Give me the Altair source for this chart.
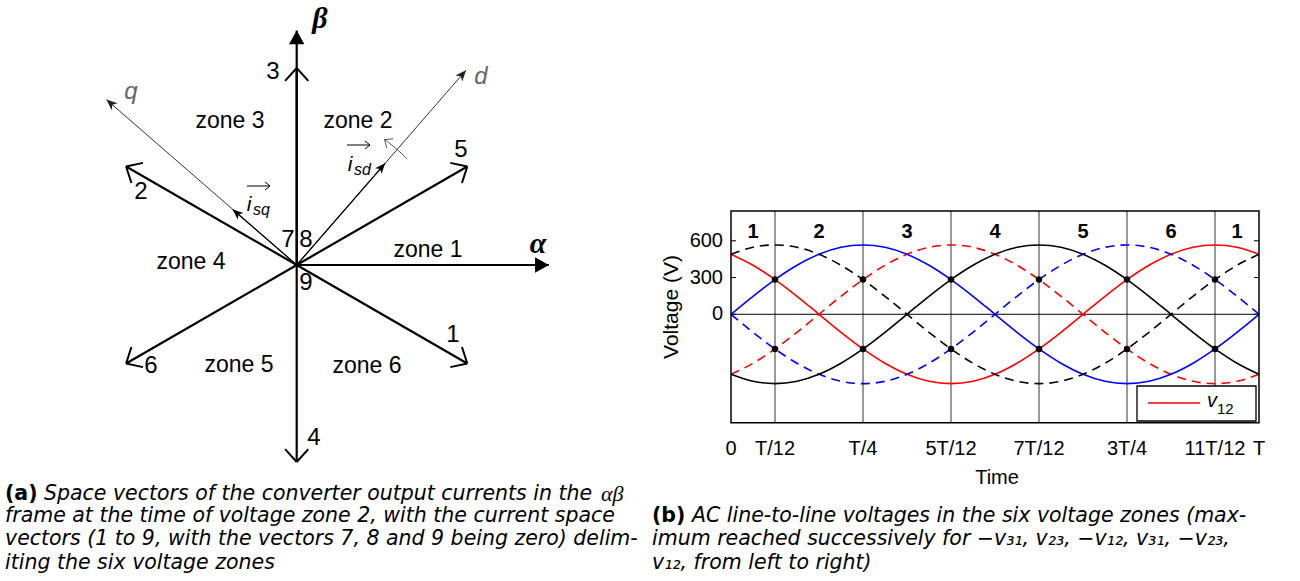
import altair as alt
import pandas as pd

# ---------------- data: panel (a) space vectors ----------------
vec_ids = ["1", "2", "3", "4", "5", "6"]
vec_angles = [-30, 150, 90, 270, 30, 210]
vec_lengths = [1.0, 1.0, 1.0, 1.0, 1.0, 1.0]

frame_names = ["α", "β"]
frame_angles = [0, 90]
frame_lengths = [1.28, 1.19]

dq_names = ["d", "q"]
dq_angles = [49, 139]
dq_lengths = [1.31, 1.28]

cur_names = ["i_sd", "i_sq"]
cur_angles = [49, 139]
cur_lengths = [0.684, 0.43]

arc_angles = [44, 45, 46, 47, 48, 49, 50, 51, 52, 53, 54, 55]
arc_radius = [0.777]

zone_names = ["zone 1", "zone 2", "zone 3", "zone 4", "zone 5", "zone 6"]
zero_vectors = ["7", "8", "9"]

# ---------------- data: panel (b) line-to-line voltages ----------------
# time in units of T/12
t_grid = [0, 0.5, 1, 1.5, 2, 2.5, 3, 3.5, 4, 4.5, 5, 5.5, 6,
          6.5, 7, 7.5, 8, 8.5, 9, 9.5, 10, 10.5, 11, 11.5, 12]
v12 = [490, 400, 283, 147, 0, -147, -283, -400, -490, -547, -566, -547, -490,
       -400, -283, -147, 0, 147, 283, 400, 490, 547, 566, 547, 490]
v23 = [0, 147, 283, 400, 490, 547, 566, 547, 490, 400, 283, 147, 0,
       -147, -283, -400, -490, -547, -566, -547, -490, -400, -283, -147, 0]
v31 = [-490, -547, -566, -547, -490, -400, -283, -147, 0, 147, 283, 400, 490,
       547, 566, 547, 490, 400, 283, 147, 0, -147, -283, -400, -490]

zone_bounds = [1, 3, 5, 7, 9, 11]
dot_levels = [283, -283]
zone_numbers = ["1", "2", "3", "4", "5", "6", "1"]
zone_centers = [0.5, 2, 4, 6, 8, 10, 11.5]
xtick_values = [0, 1, 3, 5, 7, 9, 11, 12]
xtick_labels = ["0", "T/12", "T/4", "5T/12", "7T/12", "3T/4", "11T/12", "T"]
ytick_values = [0, 300, 600]

# ---------------- scales ----------------
LX = alt.Scale(domain=[-1.5, 1.5], range=[1.2, 592.2], nice=False, zero=False)
LY = alt.Scale(domain=[-1.5, 1.5], range=[560.5, -30.5], nice=False, zero=False)
RX = alt.Scale(domain=[0, 12], range=[731, 1259], nice=False, zero=False)
RY = alt.Scale(domain=[-885, 843], range=[422.7, 211], nice=False, zero=False)

SANS = "Liberation Sans"
SERIF = "Liberation Serif"
CAPFONT = "DejaVu Sans"


def label(s, x, y, size=20, align="center", baseline="middle", style="normal",
          weight="normal", font=SANS, color="black", angle=None):
    kw = dict(align=align, baseline=baseline, fontSize=size, fontStyle=style,
              fontWeight=weight, font=font, color=color)
    if angle is not None:
        kw["angle"] = angle
    return alt.Chart(pd.DataFrame({"s": [s]})).mark_text(**kw).encode(
        x=alt.value(x), y=alt.value(y), text="s:N")


def seg(x1, y1, x2, y2, width=1.0, color="black"):
    return alt.Chart(pd.DataFrame({"k": [0]})).mark_rule(
        strokeWidth=width, color=color).encode(
        x=alt.value(x1), y=alt.value(y1), x2=alt.value(x2), y2=alt.value(y2))


def rays(names, angles, lengths, width, color):
    df = pd.DataFrame({"n": names, "a": angles, "l": lengths})
    return alt.Chart(df).transform_calculate(
        x0="0", y0="0",
        x1="cos(datum.a*PI/180)*datum.l",
        y1="sin(datum.a*PI/180)*datum.l",
    ).mark_rule(strokeWidth=width, color=color, strokeCap="butt").encode(
        x=alt.X("x0:Q", scale=LX, axis=None),
        y=alt.Y("y0:Q", scale=LY, axis=None),
        x2="x1:Q", y2="y1:Q")


def heads(names, angles, lengths, shape, size, color):
    df = pd.DataFrame({"n": names, "a": angles, "l": lengths})
    return alt.Chart(df).transform_calculate(
        x1="cos(datum.a*PI/180)*datum.l",
        y1="sin(datum.a*PI/180)*datum.l",
        rot="(450 - datum.a) % 360",
    ).mark_point(shape=shape, filled=True, size=size, color=color, opacity=1,
                 strokeWidth=0).encode(
        x=alt.X("x1:Q", scale=LX, axis=None),
        y=alt.Y("y1:Q", scale=LY, axis=None),
        angle=alt.Angle("rot:Q", scale=None))


def open_heads(angles, lengths, arm, half, width, color):
    rows = [(a, l, s) for a, l in zip(angles, lengths) for s in (-1, 1)]
    df = pd.DataFrame(rows, columns=["a", "l", "s"])
    return alt.Chart(df).transform_calculate(
        x1="cos(datum.a*PI/180)*datum.l",
        y1="sin(datum.a*PI/180)*datum.l",
    ).transform_calculate(
        x2e=f"datum.x1 + {arm}*cos((datum.a + 180 + datum.s*{half})*PI/180)",
        y2e=f"datum.y1 + {arm}*sin((datum.a + 180 + datum.s*{half})*PI/180)",
    ).mark_rule(strokeWidth=width, color=color).encode(
        x=alt.X("x1:Q", scale=LX, axis=None),
        y=alt.Y("y1:Q", scale=LY, axis=None),
        x2="x2e:Q", y2="y2e:Q")


layers = []

# ---------- panel (a) ----------
layers.append(rays(dq_names, dq_angles, dq_lengths, 1.0, "#333333"))
layers.append(heads(dq_names, dq_angles, dq_lengths,
                    "M0,0 L-0.42,1 L0,0.72 L0.42,1 Z", 480, "#222222"))
layers.append(rays(cur_names, cur_angles, cur_lengths, 1.3, "black"))
layers.append(heads(cur_names, cur_angles, cur_lengths,
                    "M0,0 L-0.42,1 L0,0.75 L0.42,1 Z", 420, "black"))
layers.append(rays(frame_names, frame_angles, frame_lengths, 2.2, "black"))
layers.append(heads(frame_names, frame_angles, frame_lengths,
                    "M0,0 L-0.56,1 L0.56,1 Z", 760, "black"))
layers.append(rays(vec_ids, vec_angles, vec_lengths, 2.2, "black"))
layers.append(open_heads(vec_angles, vec_lengths, 0.088, 42, 2.0, "black"))

# rotation arc
arc_df = pd.DataFrame({"a": arc_angles})
layers.append(alt.Chart(arc_df).transform_calculate(
    x=f"cos(datum.a*PI/180)*{arc_radius[0]}",
    y=f"sin(datum.a*PI/180)*{arc_radius[0]}",
).mark_line(color="#555555", strokeWidth=1).encode(
    x=alt.X("x:Q", scale=LX, axis=None),
    y=alt.Y("y:Q", scale=LY, axis=None), order="a:Q"))
for sgn in (-1, 1):
    d = pd.DataFrame({"a": [arc_angles[-1]], "s": [sgn]})
    layers.append(alt.Chart(d).transform_calculate(
        x1=f"cos(datum.a*PI/180)*{arc_radius[0]}",
        y1=f"sin(datum.a*PI/180)*{arc_radius[0]}",
    ).transform_calculate(
        x2e="datum.x1 + 0.045*cos((datum.a - 90 + datum.s*40)*PI/180)",
        y2e="datum.y1 + 0.045*sin((datum.a - 90 + datum.s*40)*PI/180)",
    ).mark_rule(color="#555555", strokeWidth=1).encode(
        x=alt.X("x1:Q", scale=LX, axis=None),
        y=alt.Y("y1:Q", scale=LY, axis=None),
        x2="x2e:Q", y2="y2e:Q"))

vec_label_px = {"1": (453, 335), "2": (141, 192), "3": (273, 72),
                "4": (314, 438), "5": (461, 150), "6": (151, 366)}
for vid in vec_ids:
    px, py = vec_label_px[vid]
    layers.append(label(vid, px, py, size=24))
zero_px = {"7": (288, 240), "8": (306, 240), "9": (306, 283)}
for zid in zero_vectors:
    px, py = zero_px[zid]
    layers.append(label(zid, px, py, size=24))

zone_px = {"zone 1": (428, 250), "zone 2": (358, 121), "zone 3": (230, 121),
           "zone 4": (191, 262), "zone 5": (239, 365), "zone 6": (367, 366)}
for zn in zone_names:
    px, py = zone_px[zn]
    layers.append(label(zn, px, py, size=23))

layers.append(label(frame_names[0], 538, 244, size=30, style="italic",
                    weight="bold", font=SERIF))
layers.append(label(frame_names[1], 320, 19, size=30, style="italic",
                    weight="bold", font=SERIF))
layers.append(label(dq_names[0], 481, 77, size=24, style="italic",
                    color="#666666"))
layers.append(label(dq_names[1], 131, 92, size=24, style="italic",
                    color="#666666"))

# vector-notation labels i_sd, i_sq with an arrow drawn above
layers.append(label("i", 350, 165, size=21, style="italic"))
layers.append(label("sd", 354, 170, size=16, style="italic", align="left"))
layers.append(seg(347, 145, 370, 145))
layers.append(seg(370, 145, 365, 141))
layers.append(seg(370, 145, 365, 149))
layers.append(label("i", 249, 205, size=21, style="italic"))
layers.append(label("sq", 253, 210, size=16, style="italic", align="left"))
layers.append(seg(247, 186, 270, 186))
layers.append(seg(270, 186, 265, 182))
layers.append(seg(270, 186, 265, 190))

# ---------- panel (b) ----------
one = pd.DataFrame({"k": [0]})
layers.append(alt.Chart(pd.DataFrame({"t": zone_bounds})).mark_rule(
    color="#555555", strokeWidth=1.2).encode(
    x=alt.X("t:Q", scale=RX, axis=None), y=alt.value(211), y2=alt.value(422.7)))
layers.append(alt.Chart(pd.DataFrame({"v": [0]})).mark_rule(
    color="black", strokeWidth=1).encode(
    y=alt.Y("v:Q", scale=RY, axis=None), x=alt.value(731), x2=alt.value(1259)))
for xa, xb in ((731, 736), (1254, 1259)):
    layers.append(alt.Chart(pd.DataFrame({"v": ytick_values})).mark_rule(
        color="black", strokeWidth=1).encode(
        y=alt.Y("v:Q", scale=RY, axis=None), x=alt.value(xa), x2=alt.value(xb)))

series = [
    (v12, "#ff0000", False), ([-v for v in v12], "#ff0000", True),
    (v23, "#0000ff", False), ([-v for v in v23], "#0000ff", True),
    (v31, "black", False), ([-v for v in v31], "black", True),
]
for vals, col, dashed in series:
    kw = dict(color=col, strokeWidth=1.6, interpolate="monotone")
    if dashed:
        kw["strokeDash"] = [9, 6]
    layers.append(alt.Chart(pd.DataFrame({"t": t_grid, "v": vals})).mark_line(**kw).encode(
        x=alt.X("t:Q", scale=RX, axis=None), y=alt.Y("v:Q", scale=RY, axis=None)))

dots = pd.DataFrame([(t, v) for t in zone_bounds for v in dot_levels], columns=["t", "v"])
layers.append(alt.Chart(dots).mark_circle(color="black", size=42, opacity=1).encode(
    x=alt.X("t:Q", scale=RX, axis=None), y=alt.Y("v:Q", scale=RY, axis=None)))

layers.append(alt.Chart(one).mark_rect(fillOpacity=0, stroke="black", strokeWidth=1.5).encode(
    x=alt.value(731), x2=alt.value(1259), y=alt.value(211), y2=alt.value(422.7)))

layers.append(alt.Chart(pd.DataFrame({"t": zone_centers, "s": zone_numbers, "v": [674] * 7}))
              .mark_text(font=SANS, fontSize=20, fontWeight="bold", baseline="middle")
              .encode(x=alt.X("t:Q", scale=RX, axis=None),
                      y=alt.Y("v:Q", scale=RY, axis=None), text="s:N"))

layers.append(alt.Chart(pd.DataFrame({"t": xtick_values, "s": xtick_labels}))
              .mark_text(font=SANS, fontSize=20, baseline="middle")
              .encode(x=alt.X("t:Q", scale=RX, axis=None), y=alt.value(449), text="s:N"))
layers.append(alt.Chart(pd.DataFrame({"v": ytick_values}))
              .mark_text(font=SANS, fontSize=20, baseline="middle", align="right")
              .encode(y=alt.Y("v:Q", scale=RY, axis=None), x=alt.value(723), text="v:N"))
layers.append(label("Voltage (V)", 672, 307, size=21, angle=270))
layers.append(label("Time", 997, 478, size=20))

layers.append(alt.Chart(one).mark_rect(fill="white", stroke="black", strokeWidth=1.3).encode(
    x=alt.value(1137), x2=alt.value(1256), y=alt.value(386), y2=alt.value(421)))
layers.append(alt.Chart(one).mark_rule(color="#ff0000", strokeWidth=1.5).encode(
    x=alt.value(1148), x2=alt.value(1200), y=alt.value(403)))
layers.append(label("v", 1207, 401, size=20, style="italic", align="left"))
layers.append(label("12", 1217, 409, size=15, align="left"))

# ---------- captions ----------
CAP = 20.5
layers.append(label("(a)", 5, 494, size=CAP, weight="bold", align="left", font=CAPFONT))
layers.append(label("Space vectors of the converter output currents in the", 44, 494,
                    size=CAP, style="italic", align="left", font=CAPFONT))
layers.append(label("αβ", 601, 494, size=22, style="italic", font=SERIF, align="left"))
layers.append(label("frame at the time of voltage zone 2, with the current space", 5, 516,
                    size=CAP, style="italic", align="left", font=CAPFONT))
layers.append(label("vectors (1 to 9, with the vectors 7, 8 and 9 being zero) delim-", 5, 539,
                    size=CAP, style="italic", align="left", font=CAPFONT))
layers.append(label("iting the six voltage zones", 5, 563, size=CAP, style="italic",
                    align="left", font=CAPFONT))
layers.append(label("(b)", 652, 516, size=CAP, weight="bold", align="left", font=CAPFONT))
layers.append(label("AC line-to-line voltages in the six voltage zones (max-", 692, 516,
                    size=CAP, style="italic", align="left", font=CAPFONT))
layers.append(label("imum reached successively for −v₃₁, v₂₃, −v₁₂, v₃₁, −v₂₃,", 652, 539,
                    size=CAP, style="italic", align="left", font=CAPFONT))
layers.append(label("v₁₂, from left to right)", 652, 563, size=CAP, style="italic",
                    align="left", font=CAPFONT))

chart = alt.layer(*layers).resolve_scale(
    x="independent", y="independent"
).properties(
    width=1300, height=581, padding=0,
    autosize=alt.AutoSizeParams(type="none"),
).configure_view(stroke=None)

chart.save("out.html", embed_options={"renderer": "svg", "actions": False})
